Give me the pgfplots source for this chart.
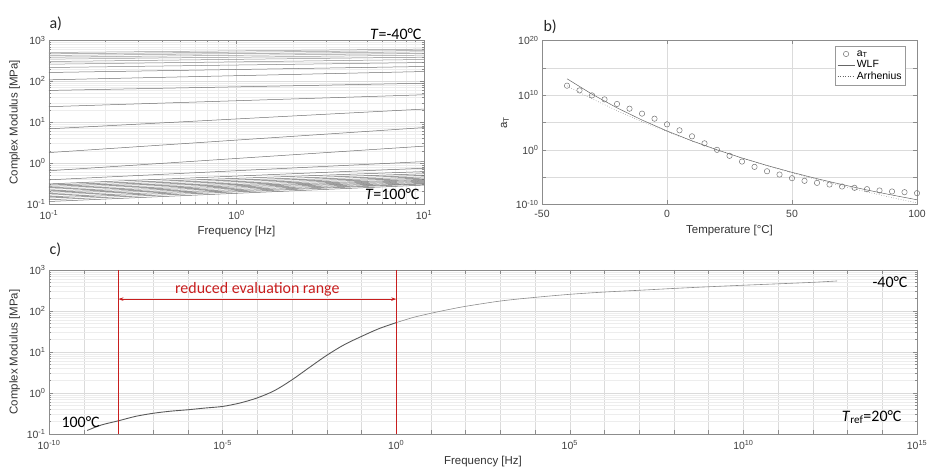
\documentclass[border=0pt]{standalone}
\usepackage{fontspec}
\setmainfont{Liberation Sans}
\newfontfamily\calfont{Carlito}
\usepackage{pgfplots}
\pgfplotsset{compat=1.18}
\usetikzlibrary{arrows.meta}
\definecolor{cred}{HTML}{C81E1E}
\definecolor{cline}{HTML}{6E6E6E}

\pgfplotsset{
  mstyle/.style={
    scale only axis, anchor=south west,
    axis line style={black!45}, tick style={black!45, line width=0.4pt},
    tick align=inside, major tick length=4bp, minor tick length=2bp,
    tick label style={font=\fontsize{10.5}{12}\selectfont, text=black!75},
    xticklabel style={yshift=-2.5bp},
    label style={font=\fontsize{11.5}{13}\selectfont, text=black!80},
    major grid style={black!14, line width=0.4pt},
    minor grid style={black!7, line width=0.4pt},
  },
  gline/.style={cline, line width=0.5pt},
}

\begin{document}
\begin{tikzpicture}[x=1bp,y=1bp]
\useasboundingbox (0,0) rectangle (927,470);

% a) isothermal frequency sweeps, -40 to 100 degC in 5 K steps
\begin{axis}[mstyle,
  at={(49bp,266bp)}, width=375bp, height=163.5bp,
  xmode=log, ymode=log,
  xmin=0.1, xmax=10, ymin=0.1, ymax=1000,
  xtick={0.1,1,10}, xticklabels={10\textsuperscript{-1},10\textsuperscript{0},10\textsuperscript{1}},
  ytick={0.1,1,10,100,1000},
  yticklabels={10\textsuperscript{-1},10\textsuperscript{0},10\textsuperscript{1},10\textsuperscript{2},10\textsuperscript{3}},
  minor xtick={0.2,0.3,0.4,0.5,0.6,0.7,0.8,0.9,2,3,4,5,6,7,8,9},
  minor ytick={0.2,0.3,0.4,0.5,0.6,0.7,0.8,0.9,2,3,4,5,6,7,8,9,20,30,40,50,60,70,80,90,200,300,400,500,600,700,800,900},
  grid=both,
  xlabel={Frequency [Hz]}, ylabel={Complex Modulus [MPa]},
]
\addplot[gline, black!40] coordinates {(0.1,508) (10,614)};
\addplot[gline, black!40] coordinates {(0.1,471) (10,569)};
\addplot[gline, black!40] coordinates {(0.1,430) (10,527)};
\addplot[gline, black!40] coordinates {(0.1,391) (10,481)};
\addplot[gline, black!40] coordinates {(0.1,349) (10,438)};
\addplot[gline, black!45] coordinates {(0.1,306) (10,391)};
\addplot[gline, black!45] coordinates {(0.1,263) (10,343)};
\addplot[gline, black!50] coordinates {(0.1,218) (10,289)};
\addplot[gline] coordinates {(0.1,165) (10,231)};
\addplot[gline] coordinates {(0.1,109) (10,174)};
\addplot[gline] coordinates {(0.1,60) (10,90)};
\addplot[gline] coordinates {(0.1,24) (10,47)};
\addplot[gline] coordinates {(0.1,6.9) (10,21)};
\addplot[gline] coordinates {(0.1,1.81) (10,7.4)};
\addplot[gline] coordinates {(0.1,0.65) (10,2.6)};
\addplot[gline] coordinates {(0.1,0.39) (10,1.09)};
\addplot[gline] coordinates {(0.1,0.31) (10,0.75)};
\addplot[gline] coordinates {(0.1,0.29) (10,0.62)};
\addplot[gline] coordinates {(0.1,0.27) (10,0.55)};
\addplot[gline] coordinates {(0.1,0.25) (10,0.50)};
\addplot[gline] coordinates {(0.1,0.23) (10,0.46)};
\addplot[gline] coordinates {(0.1,0.21) (10,0.43)};
\addplot[gline] coordinates {(0.1,0.195) (10,0.40)};
\addplot[gline] coordinates {(0.1,0.18) (10,0.38)};
\addplot[gline] coordinates {(0.1,0.165) (10,0.36)};
\addplot[gline] coordinates {(0.1,0.15) (10,0.34)};
\addplot[gline] coordinates {(0.1,0.14) (10,0.32)};
\addplot[gline] coordinates {(0.1,0.127) (10,0.31)};
\addplot[gline] coordinates {(0.1,0.115) (10,0.29)};
\end{axis}

% b) shift factors, log10(a_T) against temperature
\begin{axis}[mstyle,
  at={(542bp,265.5bp)}, width=375bp, height=164bp,
  xmin=-50, xmax=100, ymin=-10, ymax=20,
  xtick={-50,0,50,100}, xticklabels={-50,0,50,100},
  ytick={-10,-5,0,5,10,15,20},
  yticklabels={10\textsuperscript{-10},,10\textsuperscript{0},,10\textsuperscript{10},,10\textsuperscript{20}},
  grid=major,
  xlabel={Temperature [°C]}, ylabel={a\textsubscript{T}},
  legend style={at={(0.97,0.965)}, anchor=north east, draw=black!40,
    font=\fontsize{10.5}{12}\selectfont, row sep=-1pt, inner sep=2pt},
  legend cell align=left,
]
\addplot[only marks, mark=o, mark size=2.7pt, black!55, mark options={line width=0.5pt}] coordinates {
  (-40,11.73) (-35,10.87) (-30,9.96) (-25,9.23) (-20,8.39) (-15,7.53) (-10,6.62)
  (-5,5.70) (0,4.66) (5,3.57) (10,2.47) (15,1.19) (20,0) (25,-1.10) (30,-2.15)
  (35,-3.12) (40,-3.92) (45,-4.52) (50,-5.19) (55,-5.67) (60,-6.04) (65,-6.35)
  (70,-6.71) (75,-6.95) (80,-7.20) (85,-7.44) (90,-7.62) (95,-7.75) (100,-7.93)};
\addlegendentry{a\textsubscript{T}}
\addplot[black!60, line width=0.5pt] coordinates {
  (-40,13.0) (-30,10.18) (-20,7.68) (-10,5.45) (0,3.45) (10,1.64) (20,0)
  (30,-1.50) (40,-2.86) (50,-4.12) (60,-5.28) (70,-6.35) (80,-7.35) (90,-8.27) (100,-9.14)};
\addlegendentry{WLF}
\addplot[black!60, line width=0.5pt, dotted] coordinates {
  (-40,11.68) (-30,9.33) (-20,7.17) (-10,5.17) (0,3.32) (10,1.60) (20,0)
  (30,-1.50) (40,-2.90) (50,-4.21) (60,-5.45) (70,-6.61) (80,-7.71) (90,-8.74) (100,-9.73)};
\addlegendentry{Arrhenius}
\end{axis}

% c) master curve at Tref = 20 degC, x = log10(frequency)
\begin{axis}[mstyle,
  at={(49bp,36bp)}, width=868bp, height=164bp,
  ymode=log,
  xmin=-10, xmax=15, ymin=0.1, ymax=1000,
  xtick={-10,-9,...,15},
  xticklabels={10\textsuperscript{-10},,,,,10\textsuperscript{-5},,,,,10\textsuperscript{0},,,,,10\textsuperscript{5},,,,,10\textsuperscript{10},,,,,10\textsuperscript{15}},
  ytick={0.1,1,10,100,1000},
  yticklabels={10\textsuperscript{-1},10\textsuperscript{0},10\textsuperscript{1},10\textsuperscript{2},10\textsuperscript{3}},
  minor ytick={0.2,0.3,0.4,0.5,0.6,0.7,0.8,0.9,2,3,4,5,6,7,8,9,20,30,40,50,60,70,80,90,200,300,400,500,600,700,800,900},
  grid=both,
  xlabel={Frequency [Hz]}, ylabel={Complex Modulus [MPa]},
]
\addplot[black!65, line width=0.9pt, smooth] coordinates {
  (-8.9,0.122) (-8.5,0.165) (-8,0.21) (-7.5,0.27) (-7,0.32) (-6.5,0.36) (-6,0.39)
  (-5.5,0.43) (-5,0.47) (-4.5,0.57) (-4,0.76) (-3.5,1.15) (-3,2.1) (-2.5,4.2)
  (-2,8.3) (-1.5,15) (-1,24) (-0.5,37) (0,52)};
\addplot[black!45, line width=0.6pt, smooth] coordinates {
  (0,52) (0.5,70) (1,88) (1.5,108) (2,130)
  (3,175) (4,215) (5,255) (6,290) (7,320) (8,355) (9,390) (10,425) (11,460)
  (12,500) (12.7,540)};
\addplot[cred, line width=1pt] coordinates {(-8,0.1) (-8,1000)};
\addplot[cred, line width=1pt] coordinates {(0,0.1) (0,1000)};
\draw[cred, line width=0.9pt, {Stealth[length=5bp,width=3.5bp]}-{Stealth[length=5bp,width=3.5bp]}]
  (axis cs:-8,195) -- (axis cs:0,195);
\node[cred, font=\calfont\fontsize{16}{18}\selectfont] at (axis cs:-4,330) {reduced evaluation range};
\end{axis}

% panel letters and temperature notes
\node[anchor=west, font=\calfont\fontsize{16}{18}\selectfont, text=black!85] at (46,446) {a)};
\node[anchor=west, font=\calfont\fontsize{16}{18}\selectfont, text=black!85] at (540,443) {b)};
\node[anchor=west, font=\calfont\fontsize{16}{18}\selectfont, text=black!85] at (46,220) {c)};
\node[anchor=east, font=\calfont\fontsize{16}{18}\selectfont] at (425,436) {\textit{T}=-40°C};
\node[anchor=east, font=\calfont\fontsize{16}{18}\selectfont] at (423,276) {\textit{T}=100°C};
\node[anchor=west, font=\calfont\fontsize{16}{18}\selectfont] at (58,48) {100°C};
\node[anchor=east, font=\calfont\fontsize{16}{18}\selectfont] at (911,188) {-40°C};
\node[anchor=east, font=\calfont\fontsize{16}{18}\selectfont] at (905,53) {\textit{T}\textsubscript{ref}=20°C};
\end{tikzpicture}
\end{document}
